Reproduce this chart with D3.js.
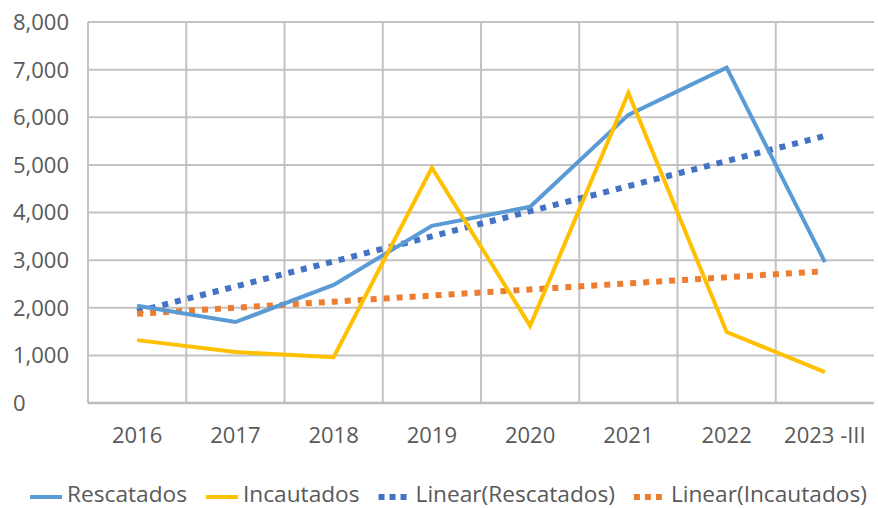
<!DOCTYPE html>
<html>
<head>
<meta charset="utf-8">
<script src="https://cdn.jsdelivr.net/npm/d3@7"></script>
<style>
  html, body { margin: 0; padding: 0; background: #fff; }
  svg { display: block; }
  text { font-family: "Open Sans", "Noto Sans", sans-serif; fill: #595959; }
</style>
</head>
<body>
<svg id="chart" width="878" height="508"></svg>
<script>
const categories = ["2016", "2017", "2018", "2019", "2020", "2021", "2022", "2023 -III"];
const rescatados = [2040, 1700, 2480, 3720, 4120, 6050, 7040, 2960];
const incautados = [1320, 1070, 960, 4940, 1620, 6510, 1490, 650];
const yTicks = [0, 1000, 2000, 3000, 4000, 5000, 6000, 7000, 8000];
const legendLabels = ["Rescatados", "Incautados", "Linear(Rescatados)", "Linear(Incautados)"];

const colors = {
  resc: "#5B9BD5",
  inca: "#FFC000",
  trendResc: "#4472C4",
  trendInca: "#ED7D31",
  grid: "#C3C3C3"
};

// Excel-style linear trendline (least squares on index 1..n)
function linearTrend(vals) {
  const xs = vals.map((_, i) => i + 1);
  const mx = d3.mean(xs), my = d3.mean(vals);
  let sxy = 0, sxx = 0;
  xs.forEach((xv, i) => { sxy += (xv - mx) * (vals[i] - my); sxx += (xv - mx) ** 2; });
  const b = sxy / sxx, a = my - b * mx;
  return xs.map(xv => a + b * xv);
}
const trendResc = linearTrend(rescatados);
const trendInca = linearTrend(incautados);

const svg = d3.select("#chart");
const mLeft = 88, mRight = 874, mTop = 22, mBottom = 403;

const x = d3.scaleBand().domain(categories).range([mLeft, mRight]).paddingInner(0).paddingOuter(0);
const y = d3.scaleLinear().domain([0, 8000]).range([mBottom, mTop]);
const cx = c => x(c) + x.bandwidth() / 2;

// horizontal gridlines
svg.append("g").selectAll("line").data(yTicks).join("line")
  .attr("x1", mLeft).attr("x2", mRight)
  .attr("y1", d => y(d)).attr("y2", d => y(d))
  .attr("stroke", colors.grid).attr("stroke-width", 2);

// vertical gridlines at category boundaries
svg.append("g").selectAll("line").data(categories).join("line")
  .attr("x1", d => x(d)).attr("x2", d => x(d))
  .attr("y1", mTop).attr("y2", mBottom)
  .attr("stroke", colors.grid).attr("stroke-width", 2);

// bottom axis line
svg.append("line").attr("x1", mLeft).attr("x2", mRight).attr("y1", mBottom).attr("y2", mBottom)
  .attr("stroke", "#BDBDBD").attr("stroke-width", 2.5);

// y labels (left-aligned as in reference)
svg.append("g").selectAll("text").data(yTicks).join("text")
  .attr("x", 13).attr("y", d => y(d) + 2)
  .attr("dominant-baseline", "middle")
  .attr("font-size", 22)
  .text(d => d3.format(",")(d));

// x labels
svg.append("g").selectAll("text").data(categories).join("text")
  .attr("x", d => cx(d)).attr("y", 443)
  .attr("text-anchor", "middle")
  .attr("font-size", 22)
  .text(d => d);

const line = d3.line().x((d, i) => cx(categories[i])).y(d => y(d));

// trendlines
svg.append("path").datum(trendResc).attr("d", line)
  .attr("fill", "none").attr("stroke", colors.trendResc).attr("stroke-width", 6)
  .attr("stroke-dasharray", "6,7");
svg.append("path").datum(trendInca).attr("d", line)
  .attr("fill", "none").attr("stroke", colors.trendInca).attr("stroke-width", 6)
  .attr("stroke-dasharray", "6,7");

// data lines
svg.append("path").datum(rescatados).attr("d", line)
  .attr("fill", "none").attr("stroke", colors.resc).attr("stroke-width", 4)
  .attr("stroke-linejoin", "miter");
svg.append("path").datum(incautados).attr("d", line)
  .attr("fill", "none").attr("stroke", colors.inca).attr("stroke-width", 4)
  .attr("stroke-linejoin", "miter");

// legend
const legendItems = [
  { label: legendLabels[0], color: colors.resc, dashed: false },
  { label: legendLabels[1], color: colors.inca, dashed: false },
  { label: legendLabels[2], color: colors.trendResc, dashed: true },
  { label: legendLabels[3], color: colors.trendInca, dashed: true }
];
const lg = svg.append("g");
const sx = 1.08;
let lx = 30;
const ly = 497;
legendItems.forEach(it => {
  const s = lg.append("line").attr("x1", lx).attr("x2", lx + 32).attr("y1", ly).attr("y2", ly)
    .attr("stroke", it.color);
  if (it.dashed) s.attr("stroke-width", 6).attr("stroke-dasharray", "6,5");
  else s.attr("stroke-width", 4);
  const tg = lg.append("g").attr("transform", `translate(${lx + 37},502) scale(${sx},1)`);
  const t = tg.append("text").attr("x", 0).attr("y", 0)
    .attr("font-size", 21).text(it.label);
  lx += 37 + t.node().getComputedTextLength() * sx + 19;
});
</script>
</body>
</html>
